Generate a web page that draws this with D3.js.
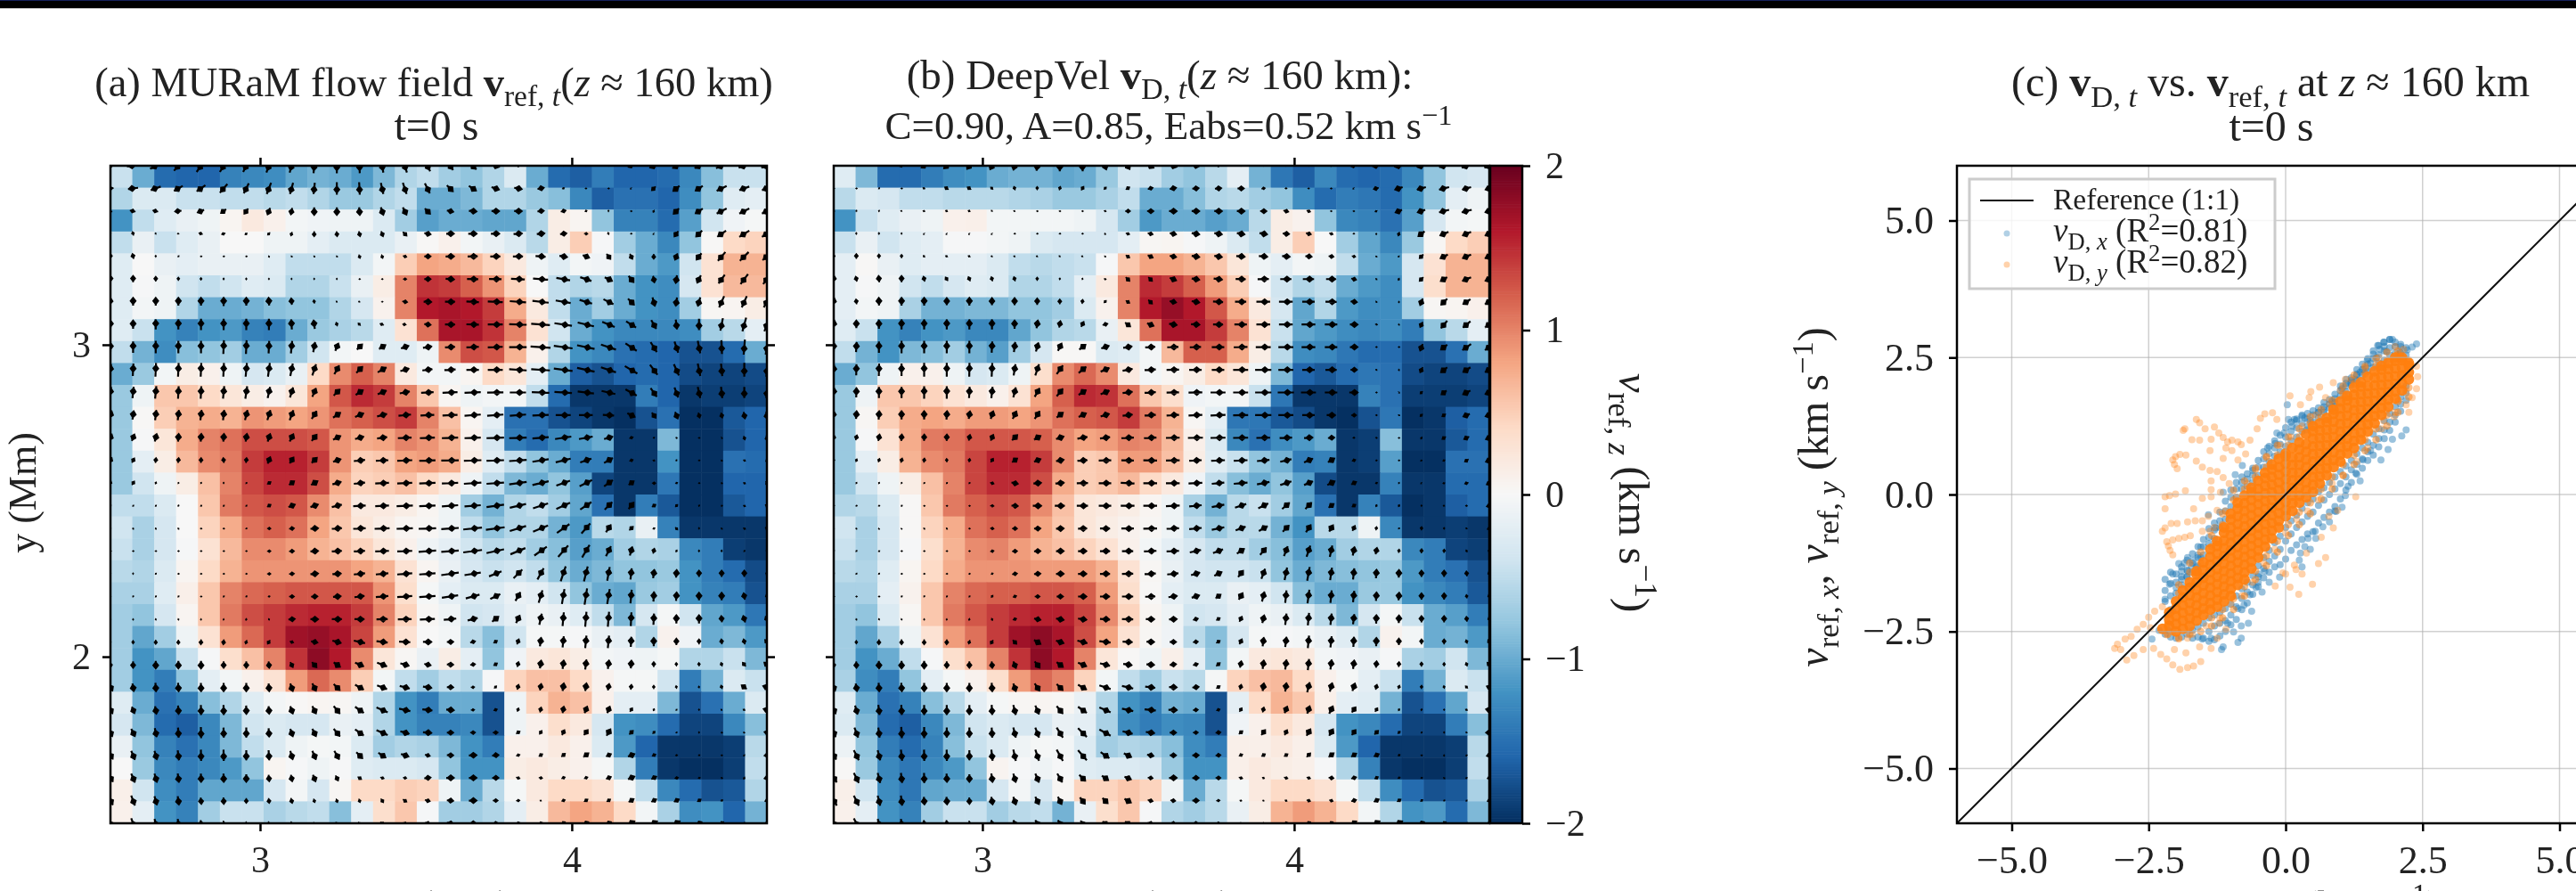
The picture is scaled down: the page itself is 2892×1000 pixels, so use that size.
<!DOCTYPE html>
<html>
<head>
<meta charset="utf-8">
<script src="https://cdn.jsdelivr.net/npm/d3@7/dist/d3.min.js"></script>
<style>
  html, body { margin: 0; background: #fff; overflow: hidden; }
  svg { display: block; filter: blur(0.5px); }
  text { font-family: "Liberation Serif", serif; fill: #222; }
</style>
</head>
<body>
<script>
// Vertical velocity in hundredths of km/s, top row first.
const vzRefRows = [
[-45,-100,-155,-160,-160,-135,-130,-125,-105,-95,-100,-115,-90,-60,-50,-70,-80,-60,-30,-100,-155,-165,-140,-160,-160,-155,-130,-85,-45,-45],
[-60,-30,-30,-45,-45,-50,-50,-55,-50,-60,-75,-75,-60,-50,-100,-100,-90,-60,-60,-75,-85,-130,-165,-150,-150,-160,-125,-80,-25,-20],
[-120,-50,-25,-15,-10,5,20,10,-5,-8,-10,-10,-30,-70,-110,-100,-100,-105,-105,-60,15,5,-80,-135,-135,-155,-110,-40,-8,-3],
[-50,-15,-45,-25,-15,0,0,-10,-10,-20,-30,-30,-30,-15,2,10,-5,-15,-30,-55,15,50,-2,-70,-100,-130,-80,2,40,45],
[-25,0,-15,-20,-15,-15,-15,-25,-50,-50,-50,-30,-5,50,80,75,65,45,20,-10,-25,-5,-8,-50,-100,-115,-40,30,70,70],
[-25,-2,-10,-40,-50,-40,-25,-30,-60,-60,-45,-15,15,100,145,140,120,90,45,0,-50,-60,-55,-100,-120,-125,-35,30,65,65],
[-25,-5,-10,-60,-100,-100,-95,-85,-80,-80,-60,-35,8,100,160,165,160,140,75,20,-50,-100,-70,-100,-120,-125,-70,3,5,15],
[-25,-45,-120,-135,-120,-115,-135,-140,-100,-75,-65,-55,-25,30,110,165,165,145,100,30,-40,-100,-120,-130,-130,-130,-125,-70,-55,-20],
[-50,-95,-125,-85,-80,-70,-100,-100,-70,-40,-5,0,-25,-25,-10,95,130,125,70,10,-60,-120,-130,-150,-155,-160,-175,-175,-155,-100],
[-100,-75,-5,15,10,-10,-35,-30,-15,40,95,120,100,20,-5,-5,5,40,25,-20,-100,-165,-175,-160,-155,-160,-180,-185,-185,-180],
[-75,-10,55,55,40,25,15,8,25,80,125,150,140,100,55,5,-10,-5,-5,-50,-155,-195,-195,-195,-140,-160,-195,-190,-190,-185],
[-75,2,50,70,75,70,90,85,80,90,110,120,130,140,100,60,5,-20,-150,-150,-175,-185,-195,-200,-175,-150,-200,-200,-170,-160],
[-75,-2,25,75,100,110,130,130,130,125,90,75,80,100,90,70,10,-35,-140,-155,-130,-115,-100,-195,-195,-90,-200,-200,-175,-160],
[-75,-20,15,65,95,105,140,155,155,140,90,50,55,80,85,75,15,-25,-50,-80,-100,-140,-140,-195,-195,-120,-200,-200,-150,-155],
[-75,-40,-10,15,60,100,135,150,150,130,75,45,50,60,40,20,-10,-50,-90,-100,-80,-110,-185,-195,-195,-145,-200,-200,-160,-160],
[-50,-50,-30,0,55,105,125,130,125,95,60,20,20,15,5,-10,-70,-95,-60,-50,-70,-105,-150,-195,-140,-170,-200,-200,-170,-160],
[-40,-65,-35,0,45,75,110,120,110,80,55,25,15,5,3,-10,-50,-80,-60,-60,-95,-115,-55,-60,-15,-135,-195,-195,-195,-195],
[-45,-65,-35,-2,30,65,95,95,85,70,60,45,25,10,-10,-20,-40,-55,-50,-70,-85,-110,-100,-70,-60,-65,-130,-140,-190,-195],
[-55,-60,-30,5,40,70,90,90,90,90,90,80,70,30,5,-15,-35,-45,-40,-50,-80,-100,-90,-80,-80,-75,-120,-140,-155,-180],
[-65,-65,-25,12,55,100,115,120,125,125,125,125,90,35,-3,-20,-30,-30,-15,-20,-40,-80,-100,-105,-75,-70,-120,-135,-140,-175],
[-70,-80,-35,5,55,105,130,140,150,155,155,140,100,45,3,-10,-40,-35,-20,-10,-15,-25,-50,-90,-35,-3,-40,-105,-115,-145],
[-70,-105,-70,-10,30,85,115,140,170,175,165,135,85,30,0,-5,-55,-85,-40,-3,-3,-2,-15,-20,-60,8,-8,-100,-90,-115],
[-70,-120,-105,-45,-2,35,60,100,145,180,160,95,25,3,-15,15,-20,-80,-8,20,25,15,-5,-8,-10,-3,-60,-60,-45,-90],
[-70,-120,-140,-80,-20,-5,10,30,85,115,95,50,-5,-50,-70,-50,-60,-2,45,60,60,40,8,-3,-3,-40,-140,-95,-30,-45],
[-25,-100,-150,-135,-85,-60,-25,-5,2,5,3,-10,-60,-120,-140,-100,-100,-175,-10,45,70,60,10,-20,-20,-90,-175,-150,-100,-30],
[-35,-90,-155,-165,-130,-90,-40,-30,-35,-35,-15,-20,-60,-120,-135,-135,-130,-175,-10,10,35,20,-35,-120,-125,-155,-185,-185,-130,-85],
[-15,-80,-135,-150,-130,-90,-50,-30,-10,-3,-5,-30,-70,-60,-65,-90,-120,-140,10,10,20,10,-30,-115,-160,-195,-195,-195,-190,-55],
[0,-75,-130,-140,-130,-115,-80,5,-2,-10,-2,-25,-30,-30,-35,-80,-120,-120,15,20,15,10,-3,-60,-140,-195,-200,-200,-190,-50],
[12,-40,-125,-140,-105,-105,-105,-35,-5,-35,3,40,40,50,45,-10,-100,-55,-3,20,40,40,30,-3,-50,-130,-155,-175,-170,-60],
[10,-20,-120,-135,-70,-45,-45,-65,-55,-50,-85,-20,35,55,-2,-70,-70,-60,-20,15,65,80,70,40,-5,-65,-125,-120,-160,-95]
];
const vzDeepRows = [
[-25,-90,-155,-155,-140,-125,-120,-100,-95,-95,-105,-100,-75,-40,-45,-70,-80,-55,-20,-95,-145,-165,-130,-155,-160,-155,-130,-80,-40,-35],
[-55,-30,-35,-50,-50,-55,-55,-55,-60,-65,-75,-75,-65,-50,-100,-100,-85,-60,-55,-70,-80,-125,-155,-140,-145,-155,-120,-80,-20,-10],
[-120,-45,-25,-15,-10,10,12,-5,-5,-5,-5,-10,-35,-70,-115,-100,-100,-110,-100,-55,15,8,-80,-130,-135,-150,-110,-35,-5,-3],
[-45,-15,-40,-25,-20,-2,-2,-5,-10,-30,-35,-35,-35,-20,3,5,-2,-10,-30,-50,15,50,0,-70,-105,-130,-75,3,40,50],
[-20,2,-15,-25,-20,-20,-20,-30,-50,-55,-50,-45,-2,55,80,80,70,55,25,-10,-20,-5,-10,-50,-100,-115,-35,30,70,70],
[-20,-2,-10,-40,-50,-35,-25,-30,-60,-60,-50,-20,20,100,150,140,120,85,50,-2,-40,-60,-50,-100,-115,-125,-35,35,70,70],
[-20,-5,-10,-65,-95,-95,-90,-90,-80,-80,-70,-30,8,100,160,175,160,125,75,20,-35,-105,-60,-115,-125,-125,-70,3,5,10],
[-25,-45,-120,-135,-120,-115,-130,-130,-105,-80,-60,-55,-15,25,110,165,165,140,100,30,-45,-105,-115,-125,-130,-125,-140,-80,-55,-20],
[-50,-95,-120,-90,-85,-70,-95,-110,-70,-35,2,2,-30,-25,-5,65,120,120,75,15,-55,-125,-130,-145,-155,-155,-175,-175,-150,-100],
[-100,-80,-10,10,10,-10,-35,-30,-10,35,95,115,95,20,-5,5,15,40,25,-10,-90,-160,-170,-155,-145,-150,-180,-185,-185,-180],
[-75,-10,55,55,45,30,20,10,30,80,120,150,145,110,55,35,-8,-5,-5,-45,-145,-195,-195,-195,-135,-150,-190,-190,-190,-185],
[-75,3,50,75,80,75,85,85,80,90,110,120,125,140,105,70,3,-20,-145,-145,-170,-180,-195,-200,-175,-145,-200,-195,-165,-155],
[-75,-2,30,75,105,110,125,125,125,120,95,80,85,100,95,65,12,-30,-130,-150,-125,-115,-100,-195,-190,-85,-195,-195,-170,-155],
[-75,-20,15,70,95,105,135,155,155,140,95,50,55,85,85,60,15,-25,-45,-80,-95,-140,-135,-195,-190,-110,-200,-200,-150,-150],
[-75,-40,-10,15,60,100,135,150,150,130,75,50,55,65,40,20,-8,-50,-85,-100,-80,-110,-180,-195,-195,-135,-195,-195,-155,-155],
[-60,-55,-30,2,55,105,120,130,125,95,60,25,20,15,5,-10,-65,-95,-55,-45,-70,-105,-150,-195,-135,-170,-200,-195,-165,-155],
[-40,-65,-35,2,45,75,110,120,110,80,55,25,15,8,3,-10,-50,-75,-55,-55,-95,-120,-55,-55,-10,-130,-195,-195,-190,-195],
[-45,-65,-35,-2,35,70,95,100,85,70,60,45,30,10,-5,-20,-35,-50,-50,-70,-85,-110,-100,-70,-60,-60,-130,-140,-185,-190],
[-55,-60,-25,5,40,75,90,90,90,85,85,85,70,30,3,-15,-35,-40,-40,-45,-80,-100,-90,-85,-80,-75,-115,-140,-150,-175],
[-65,-65,-20,8,55,100,115,120,120,125,125,120,85,35,2,-20,-30,-30,-15,-20,-40,-85,-100,-100,-75,-75,-120,-130,-140,-170],
[-70,-80,-30,3,55,105,125,140,150,155,155,135,95,45,5,-10,-40,-35,-20,-10,-15,-30,-55,-90,-35,-3,-45,-100,-110,-140],
[-70,-105,-65,-10,30,85,110,140,170,180,165,130,80,30,3,-8,-55,-85,-35,-3,-2,-5,-15,-25,-60,8,-5,-100,-95,-115],
[-70,-120,-100,-50,-2,35,60,100,145,180,160,100,25,2,-10,12,-20,-80,-5,20,25,20,-5,-8,-15,-2,-65,-70,-40,-90],
[-65,-125,-140,-80,-20,-3,8,35,85,115,100,45,-5,-50,-70,-45,-55,-3,45,60,65,40,10,-3,-20,-45,-140,-95,-30,-45],
[-25,-100,-150,-135,-85,-55,-20,-3,3,5,3,-15,-60,-120,-135,-95,-100,-175,-20,40,70,55,12,-20,-25,-95,-175,-150,-105,-35],
[-30,-90,-155,-165,-130,-90,-40,-30,-35,-35,-15,-20,-65,-125,-140,-125,-130,-175,-8,10,35,20,-35,-120,-130,-155,-185,-185,-140,-85],
[-12,-80,-140,-155,-135,-85,-45,-30,-10,-3,-5,-30,-70,-60,-65,-85,-125,-140,12,12,20,12,-30,-115,-160,-195,-195,-195,-190,-55],
[2,-75,-130,-145,-130,-115,-80,6,-2,-10,-2,-25,-30,-30,-35,-75,-120,-120,12,20,15,12,-2,-60,-135,-195,-200,-200,-190,-50],
[12,-40,-125,-145,-105,-100,-100,-35,-5,-35,3,45,45,55,45,-10,-100,-55,-3,20,40,40,30,-3,-50,-125,-155,-175,-170,-65],
[10,-20,-120,-135,-70,-45,-45,-70,-55,-50,-95,-15,35,55,-2,-60,-70,-55,-15,15,70,85,70,40,-5,-60,-120,-115,-155,-90]
];
// Horizontal flow arrows in hundredths of km/s, top row first.
const uRefRows = [
[-50,-100,-90,-70,-70,-60,-50,-40,-30,-10,0,5,20,35,45,50,60,60,30,10,0,0,0,-40,-60,-60,-70,-90,-90,-90],
[-50,-80,-80,-70,-70,-60,-40,-35,-25,-10,0,5,20,30,40,50,60,60,60,50,20,0,0,-10,-30,-50,-60,-80,-80,-80],
[-30,-40,-40,-50,-50,-40,-30,-20,-10,0,0,5,20,30,40,50,60,60,60,50,40,20,0,0,-10,-40,-60,-80,-80,-80],
[-5,-10,-5,-10,-30,-30,-20,-20,-10,0,5,10,15,30,50,60,70,70,70,60,50,30,-10,0,-10,-30,-50,-70,-80,-80],
[0,-10,0,2,0,0,0,2,10,10,10,10,10,30,50,70,80,80,80,80,60,50,30,20,0,-20,-40,-60,-70,-70],
[0,0,0,0,0,0,0,0,0,0,0,0,2,30,50,70,90,100,110,120,110,90,60,40,10,-10,-30,-50,-60,-60],
[5,0,0,0,0,0,0,-5,-5,-5,-10,-10,10,40,60,80,100,120,130,130,120,100,80,50,20,-10,-20,-40,-40,-50],
[0,0,0,0,0,0,0,0,-5,-10,-10,-20,-30,-30,50,80,100,120,140,150,140,130,100,80,40,10,0,-20,-30,-40],
[0,0,0,0,0,5,5,5,10,15,25,40,50,60,70,80,100,120,140,160,150,140,120,90,50,30,20,5,-10,-20],
[10,5,5,5,5,5,10,15,20,30,40,50,70,70,80,90,100,120,140,150,150,140,120,100,60,40,20,10,0,-10],
[10,10,10,5,5,10,15,20,25,30,50,60,70,80,100,120,130,130,130,140,140,130,110,90,50,30,20,10,0,-10],
[20,10,10,10,10,10,20,25,30,40,60,70,80,100,110,120,130,130,130,130,120,110,90,60,30,20,10,10,10,10],
[20,20,15,5,5,5,10,20,30,40,60,70,80,110,120,130,130,140,140,130,130,110,70,30,10,15,2,10,10,10],
[20,20,5,5,2,-5,5,20,30,40,60,90,100,120,130,140,140,140,140,130,120,90,70,30,20,5,0,5,20,10],
[10,20,10,5,2,0,10,30,40,50,70,90,110,120,130,130,140,140,140,130,110,100,70,40,30,20,0,10,20,20],
[10,10,10,5,3,3,10,30,50,60,80,100,110,130,130,130,130,140,130,120,110,90,60,40,30,20,5,10,20,30],
[5,5,5,3,2,2,10,30,40,60,80,100,120,130,140,140,150,150,130,120,100,70,40,30,20,20,0,10,20,30],
[2,2,2,2,2,2,5,30,40,60,80,90,110,120,140,140,150,140,120,100,80,60,40,20,10,10,0,0,10,20],
[0,0,1,1,1,1,6,30,40,60,70,90,100,120,130,140,130,100,70,50,40,30,20,10,10,5,0,0,0,10],
[1,1,2,2,2,1,5,20,40,50,60,80,100,120,130,130,110,80,40,30,20,20,20,10,5,5,0,0,-10,-10],
[2,2,3,5,2,-3,-5,10,50,60,80,80,90,110,120,100,80,50,30,20,10,10,10,5,5,0,0,-5,-15,-20],
[0,0,0,0,-2,-5,-10,-20,30,50,70,90,90,90,70,50,40,30,15,10,10,10,10,5,0,0,0,-5,-10,-30],
[5,0,0,0,0,0,0,5,20,35,50,70,80,70,50,50,40,30,10,10,10,10,10,5,0,-2,-2,-10,-25,-40],
[30,10,5,5,2,0,0,5,20,30,50,70,80,80,70,50,30,20,10,10,10,10,10,5,0,-5,-5,-10,-40,-60],
[30,20,10,5,2,2,2,5,20,30,50,70,90,90,80,60,30,30,10,10,10,20,20,20,10,10,0,-5,-20,-50],
[30,30,15,5,2,2,0,5,20,30,50,70,90,70,70,50,40,40,30,20,20,30,30,30,20,5,0,0,-10,-40],
[40,30,20,10,2,2,0,5,20,30,40,50,60,60,40,50,60,50,30,30,30,40,40,50,30,20,5,2,-10,-40],
[40,30,20,10,2,2,0,5,10,20,20,30,30,30,50,60,60,50,30,30,30,30,40,50,40,30,20,10,-10,-40],
[40,30,20,10,5,3,0,5,10,10,10,10,20,30,40,50,60,40,30,10,30,30,30,40,40,40,30,20,10,-30],
[40,30,20,10,5,5,5,10,10,10,20,20,30,30,40,50,50,40,30,30,30,40,40,50,50,50,40,30,20,-30]
];
const vRefRows = [
[-10,-10,-50,-80,-100,-100,-100,-110,-110,-120,-120,-120,-110,-110,-90,-70,-60,-20,0,0,0,0,0,-20,-30,-40,-40,-40,-30,-30],
[-5,-10,-30,-40,-50,-70,-80,-90,-90,-90,-100,-100,-90,-90,-80,-50,-40,-20,-10,10,10,0,0,-10,-30,-40,-40,-40,-30,-30],
[10,10,10,-5,-20,-30,-40,-50,-50,-60,-60,-60,-60,-60,-40,-10,-5,0,0,5,10,10,10,0,-20,-40,-40,-40,-40,-40],
[20,30,10,0,10,-10,-15,-20,-30,-40,-40,-40,-40,-30,-10,0,0,0,5,5,5,-2,20,0,-10,-40,-50,-50,-50,-50],
[40,40,20,2,0,0,0,-5,-10,-10,-10,-30,-30,-10,0,0,2,0,0,-5,-10,-20,-40,-40,-40,-50,-50,-70,-70,-60],
[50,50,40,30,25,20,20,5,2,2,2,0,0,0,0,-5,-2,-2,-5,-10,-20,-30,-30,-50,-50,-60,-60,-70,-80,-80],
[50,60,60,60,60,70,60,60,50,30,10,5,2,-5,-2,0,-5,-5,-10,-15,-20,-30,-40,-50,-70,-70,-70,-90,-90,-90],
[60,70,80,80,90,90,90,90,80,70,30,20,10,5,-5,0,-2,0,-5,-10,-20,-30,-40,-50,-70,-80,-90,-100,-110,-110],
[70,90,100,100,100,110,110,100,100,80,60,40,30,20,10,5,5,5,0,-10,-20,-30,-40,-60,-80,-90,-100,-110,-120,-120],
[90,100,110,110,110,110,110,110,100,90,70,50,40,20,10,5,0,0,-10,-10,-20,-30,-40,-60,-80,-90,-100,-100,-110,-110],
[90,90,100,100,100,100,100,90,80,70,50,40,30,15,5,5,5,2,0,-5,-10,-15,-25,-50,-70,-80,-90,-90,-90,-90],
[60,70,80,80,80,80,80,80,80,60,40,30,20,10,5,5,10,10,10,5,0,0,-5,-30,-40,-50,-40,-40,-50,-60],
[50,50,60,60,60,60,60,60,60,50,30,20,10,5,5,5,5,5,5,10,20,20,20,10,5,-5,0,-10,-30,-40],
[40,35,40,40,40,40,40,50,45,40,20,10,5,5,3,2,5,5,10,20,30,30,40,10,-5,10,0,-5,-10,-30],
[30,30,20,10,3,10,10,20,30,30,20,10,5,5,5,5,10,10,20,30,40,50,50,30,0,10,0,-5,-10,-30],
[10,10,10,10,2,3,10,20,20,20,20,5,5,5,5,10,10,20,30,40,50,60,60,50,20,20,10,5,-10,-20],
[-10,-10,-10,-5,0,0,2,0,5,5,5,5,5,5,5,10,15,20,40,50,70,80,60,30,10,-20,10,-10,-10,-20],
[0,0,0,0,0,0,0,0,2,5,5,5,5,5,10,10,20,30,50,70,90,100,80,70,40,20,20,20,10,-10],
[2,2,1,0,0,0,0,0,2,5,5,10,10,10,10,20,20,40,70,90,120,120,110,90,70,60,50,50,50,30],
[2,2,2,2,0,1,3,5,0,2,5,10,10,10,10,20,30,40,70,100,120,130,120,110,80,70,60,60,50,30],
[-10,-10,-10,-15,-15,-15,-20,-15,5,0,0,0,2,2,5,10,20,40,60,90,110,120,120,110,90,70,70,50,50,40],
[-20,-30,-35,-35,-40,-40,-30,-30,-10,-10,-20,-20,-10,-5,0,2,10,20,40,70,90,100,100,80,70,50,40,40,40,30],
[-40,-50,-60,-60,-60,-50,-50,-50,-40,-40,-35,-30,-30,-20,-10,-2,5,20,40,60,70,80,70,60,40,30,30,30,30,30],
[-50,-60,-70,-70,-70,-70,-70,-60,-60,-60,-50,-40,-30,-20,-10,-2,2,20,40,50,60,60,50,40,30,25,20,30,30,20],
[-50,-50,-60,-70,-80,-80,-70,-60,-60,-60,-60,-50,-40,-20,-10,-5,2,10,30,40,50,50,50,30,20,10,10,5,10,15],
[-60,-60,-70,-80,-90,-80,-80,-70,-60,-60,-60,-50,-40,-20,-5,0,2,2,20,30,40,40,50,30,20,2,2,0,2,10],
[-60,-70,-70,-80,-90,-90,-80,-80,-70,-70,-70,-50,-40,-20,-10,-2,2,5,10,20,25,30,20,20,15,5,2,0,-10,-5],
[-60,-70,-70,-70,-70,-70,-60,-50,-50,-50,-40,-20,-10,-5,5,0,0,0,-10,-5,10,10,15,20,20,5,5,-2,-20,-10],
[-70,-80,-70,-70,-50,-50,-40,-40,-40,-30,-30,-30,-30,-20,-10,-5,0,0,2,-5,10,20,20,25,20,20,20,10,-10,-10],
[-80,-80,-70,-70,-50,-40,-30,-30,-30,-20,-20,-20,-20,-10,-10,-10,0,5,10,10,20,20,20,30,30,30,20,20,10,-10]
];
const uDeepRows = [
[0,0,10,-30,-40,-40,-35,-30,-20,-10,0,5,20,30,50,60,50,30,10,0,0,0,-20,-40,-50,-60,-70,-80,-80,-80],
[0,5,5,10,-20,-30,-30,-20,-10,0,10,20,20,30,40,50,50,50,50,30,20,5,5,-10,-40,-60,-70,-80,-70,-60],
[0,2,2,-5,-20,-20,-20,-10,-5,2,2,3,20,40,50,60,60,60,60,50,40,30,2,2,-20,-50,-60,-80,-80,-70],
[0,0,0,0,-10,-10,-10,-3,2,2,2,5,5,30,40,50,60,60,60,60,50,40,30,2,0,-10,-50,-70,-70,-70],
[5,0,0,0,-15,-20,-20,-10,-10,-10,-5,-10,10,30,40,50,60,60,70,70,60,50,40,30,3,-10,-30,-60,-70,-70],
[5,-10,-5,0,-10,-20,-15,-10,-10,0,2,5,20,30,30,50,60,70,80,90,90,90,80,40,5,-10,-30,-50,-70,-70],
[10,-5,-2,0,0,0,0,0,0,0,0,5,20,30,30,50,60,80,90,110,110,100,90,50,5,2,-20,-50,-60,-70],
[10,0,0,0,0,0,0,0,0,10,10,20,40,40,50,60,70,80,100,110,110,110,100,60,20,2,-20,-50,-60,-70],
[0,5,0,0,0,0,0,5,10,20,30,50,60,70,80,90,90,100,110,120,120,110,100,60,5,2,-20,-50,-70,-70],
[5,2,2,0,0,0,2,5,15,30,50,60,70,80,90,100,100,100,120,130,120,100,90,50,2,2,-20,-50,-60,-70],
[5,2,0,0,0,0,5,10,20,40,50,60,70,80,90,100,110,120,120,130,130,120,100,70,3,2,-20,-40,-60,-70],
[5,5,5,0,0,5,10,20,30,40,50,60,70,80,90,100,110,120,120,130,120,100,70,40,10,3,-20,-30,-50,-60],
[5,10,10,5,2,2,10,20,40,50,60,80,80,100,100,110,120,120,120,110,100,70,50,20,10,2,-10,-30,-40,-50],
[5,10,10,10,5,-2,5,20,40,50,60,80,100,100,110,110,100,110,110,100,90,70,50,30,10,2,-10,-20,-30,-50],
[5,10,10,5,3,2,2,30,50,60,70,90,100,110,110,110,110,100,110,100,90,70,60,40,20,5,-2,-20,-30,-40],
[5,5,5,3,2,2,5,30,50,70,80,90,100,110,110,110,100,100,90,80,60,50,40,30,10,10,0,-10,-20,-40],
[2,2,3,3,1,1,5,30,40,50,60,70,80,100,110,100,100,100,80,70,50,40,30,20,5,10,2,0,-10,-30],
[1,1,2,1,1,2,5,30,40,50,60,70,80,90,100,100,90,80,60,50,30,30,20,15,10,5,2,2,-10,-20],
[1,1,1,1,1,1,5,20,40,50,60,70,80,90,90,90,70,60,40,30,20,20,15,10,5,2,0,0,-5,-10],
[1,1,1,3,2,2,5,15,30,40,50,70,80,90,80,70,60,40,30,20,10,15,10,10,5,5,0,0,-5,-10],
[2,2,3,5,3,-2,-5,10,30,50,60,70,80,90,70,60,40,30,20,15,10,10,10,10,2,2,0,0,-5,-10],
[0,0,0,0,0,-2,-10,-20,30,50,60,80,90,80,60,50,40,30,20,10,10,10,10,5,2,0,0,0,-10,-20],
[5,2,2,0,0,0,0,5,20,40,50,70,80,70,60,50,40,30,10,10,10,10,10,10,5,3,0,0,-10,-30],
[20,10,5,5,0,0,0,5,20,40,50,70,90,90,80,60,50,30,10,10,10,20,20,20,10,10,2,-5,-20,-40],
[30,20,10,5,0,0,0,5,20,30,50,70,90,90,90,70,40,30,20,10,20,20,30,30,20,10,5,0,-20,-50],
[30,30,10,5,0,0,0,5,20,30,50,70,90,80,70,50,40,40,30,30,20,30,30,30,30,20,5,0,-10,-50],
[40,40,20,10,2,2,0,10,20,30,50,70,70,60,50,50,50,40,30,30,30,30,40,40,40,20,10,0,-10,-40],
[50,40,20,10,2,3,0,10,20,30,40,50,50,50,40,60,50,40,30,20,30,30,40,40,30,20,10,2,-10,-30],
[50,40,20,10,5,5,2,10,20,30,30,40,40,50,40,40,50,30,20,10,20,30,30,40,40,30,20,10,-5,-30],
[50,40,20,10,5,5,5,10,20,30,30,30,40,40,40,40,40,30,20,20,30,30,30,40,50,50,40,30,10,-30]
];
const vDeepRows = [
[0,0,5,-10,-30,-40,-50,-60,-70,-80,-90,-90,-60,-50,-30,-20,-10,0,0,0,0,0,-5,-10,-10,-15,-20,-20,-30,-30],
[0,0,5,0,10,20,20,20,30,30,30,30,20,20,10,10,5,5,0,5,0,0,0,-10,-10,-20,-20,-20,-20,-20],
[0,5,5,3,5,10,10,10,2,0,0,0,-5,0,0,0,0,0,0,0,-10,-10,0,0,-10,-20,-20,-20,-20,-20],
[10,20,20,10,-10,-10,-10,-3,0,0,0,0,-10,-10,-10,-10,-10,-10,-10,-10,-5,-10,-10,0,-10,-30,-40,-30,-30,-30],
[30,40,35,30,15,10,10,5,5,5,5,5,-10,-20,-20,-10,-10,-10,-5,-5,-5,-5,-5,-5,-2,-10,-30,-30,-30,-30],
[50,40,50,50,40,30,35,35,35,30,20,15,-5,-30,-30,-20,-10,-10,-2,2,0,0,0,-10,-5,-20,-30,-30,-30,-30],
[50,40,60,60,60,55,60,55,55,50,40,35,20,-20,-30,-10,-10,-5,0,0,0,0,-2,-5,-5,-10,-50,-50,-40,-40],
[60,60,70,80,80,80,80,80,70,60,50,40,10,-30,-20,-10,-5,0,0,0,0,0,0,0,-5,-5,-40,-60,-50,-50],
[70,80,90,100,100,100,100,90,80,70,60,40,20,10,5,2,2,0,2,0,0,0,0,0,0,0,-50,-40,-50,-50],
[80,90,100,100,110,110,110,110,90,90,70,50,30,15,5,2,0,0,0,0,0,0,0,0,-2,-5,-40,-40,-40,-40],
[80,80,90,90,100,100,90,90,80,70,60,40,30,10,5,2,2,0,0,0,0,0,0,0,0,-2,-20,-30,-30,-30],
[50,60,70,70,70,70,60,60,60,60,40,30,20,10,5,5,5,5,2,0,0,0,0,0,0,-2,-20,-20,-20,-20],
[40,40,50,50,50,50,45,45,40,30,20,15,10,5,5,2,2,2,2,2,3,3,3,2,-2,0,-20,-20,-20,-20],
[25,25,30,35,35,30,30,30,30,20,10,5,2,-2,-2,2,5,5,5,10,20,30,30,10,2,0,-5,-10,-20,-20],
[15,15,15,10,3,2,2,-10,-10,5,5,2,0,-5,0,0,5,10,10,20,30,30,30,20,10,10,-2,-5,-10,-20],
[2,2,2,2,0,0,0,-2,-2,0,0,0,0,0,0,5,10,20,30,40,50,50,30,20,20,20,5,5,2,-10],
[-5,-5,-10,-8,-1,-1,0,-2,0,2,2,2,0,0,2,5,10,20,30,40,50,60,50,40,30,10,30,20,5,-10],
[1,1,1,0,0,0,0,5,2,2,0,0,0,0,5,5,20,30,40,60,80,90,90,70,50,30,35,30,20,10],
[1,1,1,0,0,0,2,10,5,2,0,0,0,2,5,10,20,30,50,80,100,110,100,90,70,60,50,50,40,30],
[0,0,0,2,3,2,5,20,10,0,0,0,0,0,3,10,20,30,50,80,100,110,100,90,70,60,50,50,30,30],
[-5,-5,-5,-10,-15,-15,-20,-20,10,-10,-10,-10,-5,-2,0,2,10,20,40,60,90,100,90,80,70,60,50,50,40,30],
[-20,-30,-40,-40,-40,-40,-30,-30,-30,-30,-20,-20,-10,-5,-2,0,5,20,40,70,80,100,90,80,70,50,40,40,30,30],
[-40,-50,-60,-60,-60,-50,-50,-50,-50,-50,-40,-30,-20,-10,-3,5,10,25,50,70,80,90,80,70,50,40,35,30,30,30],
[-50,-60,-70,-70,-70,-70,-70,-70,-60,-60,-50,-40,-30,-20,-10,-2,5,20,40,60,70,80,70,60,40,30,30,25,20,15],
[-60,-70,-80,-80,-80,-80,-80,-80,-80,-70,-60,-50,-40,-20,-10,-2,2,10,30,40,50,60,60,40,30,20,20,5,10,10],
[-70,-80,-80,-90,-90,-80,-80,-80,-80,-80,-80,-70,-50,-20,-10,0,2,5,25,40,40,50,50,40,30,20,5,5,5,0],
[-70,-80,-80,-90,-90,-90,-80,-90,-90,-90,-90,-80,-50,-30,-10,0,2,5,15,20,20,30,30,25,20,10,0,-2,-5,-10],
[-70,-80,-80,-80,-80,-70,-60,-70,-70,-70,-70,-50,-35,-20,-5,0,2,0,-10,-10,-10,-10,-5,10,15,10,2,-2,-5,-10],
[-80,-80,-80,-80,-60,-60,-50,-60,-60,-60,-60,-50,-40,-30,-10,-5,0,2,-5,-5,-10,-10,-10,10,20,20,15,5,-5,-10],
[-80,-80,-70,-70,-50,-50,-40,-50,-50,-50,-50,-40,-30,-30,-10,-5,0,5,5,5,10,20,20,30,30,30,20,20,10,-10]
];
// Scatter of panel (c): the loose dots read one by one, km/s.
const xBlue = [1.9,1.95,1.79,1.68,1.84,1.6,1.49,1.47,1.36,1.28,1.19,1.11,2.39,2.31,2.22,2.14,2.09,2.2,1.95,2.12,1.87,1.74,1.55,1.41,1.28,1.36,1.14,1.09,1.03,.92,.68,.54,.41,.27,.3,-.11,-.38,-.49,-.54,-.43,-.65,-.76,-.87,-.62,-.81,-.68,-1.06,-.95,-.81,-.87,-1.14,-1.17,-1.52,-1.36,-2.44,-2.31,-2.14,-2.06,-2.2,-2.12,-2.06,-1.95,-1.79,-1.79,-1.63,-1.55,-1.28,-1.41,-1.14,-.92,-.79,-.6,-.33,-.19,-.16,.05,.16,.3,.03,-.03,.38,.6,.9,1.03,1.72,1.8,1.55,1.42,1.3,1.66,-1.9,-1.85,-1.72,-1.68,-1.6,-1.9,-2,-1.8,-1.55,.2,.12,.35,.45,.85,.7,.9,.8,.55,.45,.35,.25,-.3,-.5];
const yBlue = [2.83,2.83,2.78,2.72,2.61,2.56,2.45,2.31,2.23,2.1,2.04,2.1,2.75,2.69,2.64,2.21,2.61,1.18,1.01,1.07,.82,.63,.8,.63,.39,.25,.15,-.02,-.23,-.31,-.59,-.67,-.8,-1.07,-1.32,-1.51,-1.4,-1.45,-1.7,-1.78,-1.83,-2.02,-2.08,-2.13,-2.4,-2.35,-2.35,-2.51,-2.62,-2.7,-2.78,-2.83,-2.64,-2.62,-2.64,-2.48,-2.48,-2.13,-1.91,-1.64,-1.45,-1.26,-1.15,-1.4,-1.32,-.96,-.61,-.37,.04,.36,.53,.44,.85,.93,1.12,1.37,1.37,1.45,1.64,1.12,1.18,1.5,1.61,1.93,2.65,2.7,2.4,2.28,2.2,2.5,-1.4,-1.25,-1.3,-1.2,-1.1,-1.55,-1.7,-1.5,-1.15,1.35,1.25,1.4,1.35,1.7,1.55,-.3,-.5,-.8,-1,-.95,-1.2,-1.6,-1.6];
const xOrange = [-1.63,-1.57,-1.84,-1.87,-1.47,-1.3,-1.22,-1.14,-1.06,-.98,-.87,-1.71,-1.57,-1.36,-1.38,-1.09,-.81,-.65,-.38,-.24,-.16,-.46,-.52,-.73,-1.14,-.98,-.87,-2.01,-1.93,-1.82,-2.06,-2.03,-1.98,-1.63,-1.52,-1.38,-1.25,-1.36,-1.14,-1.03,-2.2,-2.12,-2.01,-1.83,-2.2,-1.68,-1.52,-1.36,-1.36,-1.19,-2.25,-2.2,-2.09,-1.98,-1.79,-1.65,-1.52,-1.41,-1.25,-2.17,-2.06,-1.95,-1.84,-1.74,-2.14,-2.11,-2.06,-1.52,-1.38,.87,.46,.62,.08,.43,.27,.73,1.09,1.28,.95,.79,.87,.65,.73,.6,.38,.3,.16,.49,.08,-.19,.24,0,.19,-.05,2.39,2.41,2.39,2.31,2.2,2.25,2.06,1.98,1.79,1.84,-3.07,-3.12,-3.01,-2.9,-2.77,-2.6,-2.41,-2.28,-2.17,-2.06,-1.93,-1.79,-1.68,-1.55,-2.03,-1.82,-1.57,-1.36,-1.25,-1.09,-1.22,-1.95,-1.79,-2.71,-2.6,-2.5,-2.39,-2.25,-2.82,-2.93,-2.47,-2.17,-2.06,-1.3,-1.1,-.9,-.7,-.55,-.35,-.1,.1,.3,.55,.8,1,1.2,1.45,1.7,2,2.15,-1.7,-1.45,-1.2,-1,-.8,-.6,-.4,-.2,0,.2,.4,.6,.85,1.05,1.3,1.5,1.75,2,2.2];
const yOrange = [1.37,1.31,1.2,1.17,1.2,1.23,1.12,1.04,.96,.99,.96,1,.99,1.01,.8,.85,.91,.99,1.47,1.49,1.37,1.39,1.2,.74,.66,.8,.63,.69,.73,.72,.63,.55,.47,.61,.5,.44,.42,.25,.31,.2,-.04,-.02,.01,.07,-.26,-.26,-.07,-.04,.09,.04,-.67,-.61,-.53,-.53,-.5,-.48,-.48,-.4,-.29,-.86,-.83,-.8,-.78,-.75,-.94,-1.02,-1.1,-.67,-.67,2.04,1.88,1.96,1.8,1.77,1.64,1.77,2.1,-.04,-.29,-.4,-.61,-.78,-1.15,-1.26,-1.07,-1.45,-1.29,-1.64,-1.69,-1.67,-1.82,-1.45,-1.37,-1.43,2.34,2.15,1.93,1.77,1.64,1.5,1.72,1.42,1.34,1.53,-2.73,-2.81,-2.83,-3.02,-2.94,-2.83,-2.81,-2.92,-3,-3.11,-3.19,-3.16,-3.13,-3.05,-2.83,-2.89,-2.78,-2.81,-2.62,-2.46,-2.35,-2.64,-2.62,-2.46,-2.37,-2.24,-2.13,-2.05,-2.59,-2.64,-2.43,-2.56,-2.51,-.6,-.3,-.05,.2,.45,.7,.9,1.05,1.25,1.45,1.65,1.9,2.1,2.35,2.5,2.7,2.65,-2.55,-2.4,-2.25,-2,-1.85,-1.6,-1.25,-1,-.7,-.45,-.3,-.1,.2,.35,.6,.85,1.2,1.5,1.9];
// The blue and orange fringe either side of the band, as columns.
const fringeBlueX = [-2.2,-2.1,-2,-1.9,-1.8,-1.7,-1.6,-1.5,-1.4,-1.3,-1.2,-1.1,-1,-.9,-.8,-.7,-.6,-.5,-.4,-.3,-.2,-.1,0,.1,.2,.3,.4,.5,.6,.7,.8,.9,1,1.1,1.2,1.3,1.4,1.5,1.6,1.7,1.8,1.9,2,2.1,2.2];
const fringeBlueY = [
[-2.55,-1.95,-1.75,-1.55],[-2.6,-2.1,-1.85,-1.62,-1.42],[-2.62,-1.8,-1.6,-1.45],[-2.6,-1.65,-1.5,-1.32],[-2.55,-1.5,-1.38,-1.2],
[-2.62,-2.48,-1.42,-1.25,-1.08],[-2.6,-2.42,-1.3,-1.15,-.95],[-2.62,-2.35,-1.1,-.95,-.82],[-2.68,-2.5,-2.25,-.9,-.78,-.62],[-2.65,-2.4,-2.2,-.8,-.65,-.52],
[-2.58,-2.35,-2.15,-.6,-.48,-.32],[-2.5,-2.3,-2.08,-.45,-.3,-.12],[-2.38,-2.2,-2,-.22,-.05,.08],[-2.28,-2.05,-1.85,-.05,.1,.22],[-2.1,-1.9,-1.72,.1,.22,.32],
[-1.98,-1.78,-1.6,.15,.28,.38],[-1.82,-1.65,-1.48,.22,.35,.48],[-1.68,-1.5,-1.3,.35,.5,.62],[-1.52,-1.35,-1.15,.5,.65,.78],[-1.42,-1.22,-1.02,.6,.75,.88],
[-1.32,-1.12,-.88,.7,.85,.98],[-1.28,-1,-.76,.78,.92,1.08],[-1.18,-.85,-.6,.88,1.05,1.22],[-1.02,-.72,-.48,.98,1.15,1.32],[-.92,-.6,-.38,1.05,1.22,1.38],
[-.82,-.5,-.25,1.15,1.3,1.43],[-.72,-.4,-.15,1.25,1.38,1.48],[-.68,-.32,-.08,1.32,1.45,1.53],[-.52,-.2,.05,1.4,1.5,1.58],[-.42,-.1,.12,1.5,1.6,1.68],
[-.32,0,.22,1.58,1.65,1.73],[-.22,.1,.32,1.68,1.75,1.83],[-.08,.2,.42,1.8,1.9,1.98],[.08,.32,.52,1.88,1.98,2.03],[.22,.45,.62,2,2.08,2.13],
[.37,.55,.75,2.08,2.18,2.28],[.48,.65,.85,2.18,2.28,2.38],[.62,.78,.95,2.25,2.38,2.48],[.72,.9,1.1,2.32,2.48,2.62],[.87,1.02,1.2,2.4,2.55,2.72],
[1.02,1.18,1.35,2.45,2.62,2.78],[1.17,1.32,1.48,2.55,2.68,2.83],[1.32,1.45,1.6,2.58,2.7,2.78],[1.52,1.65,1.78,2.58,2.7,2.74],[1.72,1.85,1.98,2.55,2.68]
];
const fringeOrangeX = [-2.15,-1.95,-1.75,-1.55,-1.35,-1.15,-.95,-.75,-.55,-.35,-.15,.05,.25,.45,.65,.85,1.05,1.25,1.45,1.65,1.85,2.05,2.25];
const fringeOrangeY = [
[-2.55,-2.35,-2.2],[-2.62,-1.8,-1.65],[-2.55,-1.42,-1.25],[-2.5,-1.25,-1.05],[-2.4,-2.25,-.95,-.75],[-2.25,-2.1,-.55,-.35],
[-2.1,-1.9,-.1,.08],[-1.85,-1.68,.1,.25],[-1.55,-1.4,.32,.48],[-1.3,-1.12,.5,.68],[-1.05,-.85,.72,.9],[-.75,-.55,.9,1.05],
[-.55,-.32,1.05,1.2],[-.35,-.15,1.3,1.42],[-.08,.1,1.42,1.55],[.1,.32,1.58,1.72],[.35,.55,1.85,1.98],[.55,.72,2.02,2.18],
[.8,1,2.2,2.32],[1,1.2,2.35,2.48],[1.25,1.45,2.45,2.6],[1.5,1.7,2.55,2.62],[1.78,1.95,2.45]
];
// The solid orange band, as columns of stacked dots.
const coreX = [-2.25,-2.125,-2,-1.875,-1.75,-1.625,-1.5,-1.375,-1.25,-1.125,-1,-.875,-.75,-.625,-.5,-.375,-.25,-.125,0,.125,.25,.375,.5,.625,.75,.875,1,1.125,1.25,1.375,1.5,1.625,1.75,1.875,2,2.125,2.25];
const coreY = [
[-2.45],
[-2.4,-2.28,-2.15],
[-2.5,-2.36,-2.22,-2.08,-1.95],
[-2.45,-2.3,-2.16,-2.02,-1.88,-1.75],
[-2.4,-2.26,-2.12,-1.98,-1.84,-1.7,-1.6],
[-2.3,-2.16,-2.02,-1.88,-1.74,-1.6,-1.46,-1.4],
[-2.2,-2.08,-1.94,-1.8,-1.66,-1.52,-1.38,-1.24],
[-2.1,-1.98,-1.84,-1.7,-1.56,-1.42,-1.28,-1.14,-1],
[-2.05,-1.92,-1.78,-1.64,-1.5,-1.36,-1.22,-1.08,-.94,-.85],
[-1.95,-1.82,-1.68,-1.54,-1.4,-1.26,-1.12,-.98,-.84,-.7,-.6],
[-1.85,-1.72,-1.58,-1.44,-1.3,-1.16,-1.02,-.88,-.74,-.6,-.46,-.35],
[-1.65,-1.52,-1.38,-1.24,-1.1,-.96,-.82,-.68,-.54,-.4,-.26,-.15],
[-1.55,-1.42,-1.28,-1.14,-1,-.86,-.72,-.58,-.44,-.3,-.16,-.02],
[-1.35,-1.22,-1.08,-.94,-.8,-.66,-.52,-.38,-.24,-.1,.04,.12],
[-1.15,-1.02,-.88,-.74,-.6,-.46,-.32,-.18,-.04,.1,.25],
[-.95,-.82,-.68,-.54,-.4,-.26,-.12,.02,.16,.3,.4],
[-.8,-.66,-.52,-.38,-.24,-.1,.04,.18,.32,.46,.55],
[-.6,-.48,-.34,-.2,-.06,.08,.22,.36,.5,.65],
[-.4,-.28,-.14,0,.14,.28,.42,.56,.7,.75],
[-.3,-.16,-.02,.12,.26,.4,.54,.68,.85],
[-.15,-.02,.12,.26,.4,.54,.68,.82,.95],
[-.05,.08,.22,.36,.5,.64,.78,.92,1.1],
[.05,.18,.32,.46,.6,.74,.88,1.02,1.16,1.25],
[.2,.33,.47,.61,.75,.89,1.03,1.17,1.3],
[.35,.48,.62,.76,.9,1.04,1.18,1.32,1.4],
[.5,.63,.77,.91,1.05,1.19,1.33,1.47,1.55],
[.6,.73,.87,1.01,1.15,1.29,1.43,1.57,1.7],
[.75,.88,1.02,1.16,1.3,1.44,1.58,1.72,1.8],
[.85,.98,1.12,1.26,1.4,1.54,1.68,1.82,1.95],
[1,1.13,1.27,1.41,1.55,1.69,1.83,1.97,2.05],
[1.15,1.28,1.42,1.56,1.7,1.84,1.98,2.15],
[1.3,1.43,1.57,1.71,1.85,1.99,2.13,2.25],
[1.45,1.58,1.72,1.86,2,2.14,2.28,2.35],
[1.6,1.73,1.87,2.01,2.15,2.29,2.4],
[1.75,1.88,2.02,2.16,2.3,2.44,2.5],
[1.9,2.03,2.17,2.31,2.45,2.5],
[2.1,2.23,2.35,2.4]
];
const heatTicks = [3, 4];
const cbarTicks = [-2, -1, 0, 1, 2];
const scatterTicks = [-5, -2.5, 0, 2.5, 5];
const colorStops = ["#053061","#2166ac","#4393c3","#92c5de","#d1e5f0","#f7f7f7","#fddbc7","#f4a582","#d6604d","#b2182b","#67001f"];

const W = 2892, H = 1000;
const TOP = 186, BOTTOM = 924;
const color = d3.scaleLinear().domain(d3.range(11).map(i => -2 + 0.4 * i)).range(colorStops).clamp(true);
const quiverLen = d3.scaleLinear().domain([0, 1]).range([0, 14]);

const svg = d3.select("body").append("svg").attr("width", W).attr("height", H);
svg.append("rect").attr("width", W).attr("height", H).attr("fill", "#fff");
svg.append("rect").attr("width", W).attr("height", 9).attr("fill", "#000");
svg.append("rect").attr("width", W).attr("height", 1).attr("fill", "#15205c");
svg.append("rect").attr("y", 9).attr("width", W).attr("height", 1).attr("fill", "#bbb");

// Text with bold, italic, sub and superscript runs, keeping one real text element.
function mathText(parent, x, y, parts, size, opts = {}) {
  const t = parent.append("text")
    .attr("font-size", size)
    .attr("text-anchor", opts.anchor || "middle")
    .attr("transform", `translate(${x},${y}) rotate(${opts.rotate || 0})`);
  let shift = 0;
  for (const [txt, mode = ""] of parts) {
    const sub = mode.includes("s"), sup = mode.includes("u");
    const target = sub ? size * 0.24 : sup ? -size * 0.36 : 0;
    const span = t.append("tspan").text(txt).attr("dy", target - shift);
    if (sub || sup) span.attr("font-size", size * 0.72);
    if (mode.includes("b")) span.attr("font-weight", "bold");
    if (mode.includes("i")) span.attr("font-style", "italic");
    shift = target;
  }
  return t;
}

const clipId = (() => { let n = 0; return () => "clip" + n++; })();

function heatPanel(left, right, vz, u, v, xDomain, leftLabels) {
  const g = svg.append("g");
  const id = clipId();
  g.append("clipPath").attr("id", id).append("rect")
    .attr("x", left).attr("y", TOP).attr("width", right - left).attr("height", BOTTOM - TOP);

  const idx = d3.range(30);
  const cx = d3.scaleBand().domain(idx).range([left, right]);
  const cy = d3.scaleBand().domain(idx).range([TOP, BOTTOM]);
  const ax = d3.scalePoint().domain(idx).range([left, right]);
  const ay = d3.scalePoint().domain(idx).range([TOP, BOTTOM]);

  g.append("g").selectAll("g").data(vz).join("g").selectAll("rect")
    .data((row, k) => row.map((val, j) => ({ val, j, k })))
    .join("rect")
    .attr("x", d => cx(d.j)).attr("y", d => cy(d.k))
    .attr("width", cx.bandwidth() + 0.5).attr("height", cy.bandwidth() + 0.5)
    .attr("fill", d => color(d.val / 100));

  const arrows = [];
  idx.forEach(k => idx.forEach(j => arrows.push({ j, k, u: u[k][j] / 100, v: v[k][j] / 100 })));
  g.append("g").attr("clip-path", `url(#${id})`).selectAll("path").data(arrows).join("path")
    .attr("fill", "#000")
    .attr("transform", d => `translate(${ax(d.j)},${ay(d.k)}) rotate(${Math.atan2(-d.v, d.u) * 180 / Math.PI})`)
    .attr("d", d => {
      const L = Math.max(quiverLen(Math.hypot(d.u, d.v)), 2.5);
      const s = Math.min(1, L / 8);
      const w = 1.1 * s, hc = 0.1 * L, hl = 5 * s, hw = 4 * s;
      return `M${-L / 2},${-w}H${L / 2}V${w}H${-L / 2}Z` +
        `M${hc - hl},0L${hc},${-hw}L${hc + hl},0L${hc},${hw}Z`;
    });

  const x = d3.scaleLinear().domain(xDomain).range([left, right]);
  const y = d3.scaleLinear().domain([1.466, 3.574]).range([BOTTOM, TOP]);
  const fmt = d3.format("d");
  const style = a => {
    a.select(".domain").remove();
    a.selectAll(".tick line").attr("stroke", "#000").attr("stroke-width", 2.5);
    a.selectAll("text").attr("font-size", 42).attr("font-family", "Liberation Serif").attr("fill", "#222");
  };
  g.append("g").attr("transform", `translate(0,${BOTTOM})`)
    .call(d3.axisBottom(x).tickValues(heatTicks).tickSize(9).tickPadding(16).tickFormat(fmt)).call(style);
  g.append("g").attr("transform", `translate(0,${TOP})`)
    .call(d3.axisTop(x).tickValues(heatTicks).tickSize(9).tickFormat("")).call(style);
  g.append("g").attr("transform", `translate(${left},0)`)
    .call(d3.axisLeft(y).tickValues([2, 3]).tickSize(9).tickPadding(13).tickFormat(leftLabels ? fmt : "")).call(style);
  if (leftLabels) {
    g.append("g").attr("transform", `translate(${right},0)`)
      .call(d3.axisRight(y).tickValues([2, 3]).tickSize(9).tickFormat("")).call(style);
  }
  g.append("rect").attr("x", left).attr("y", TOP).attr("width", right - left).attr("height", BOTTOM - TOP)
    .attr("fill", "none").attr("stroke", "#000").attr("stroke-width", 2.5);
}

heatPanel(124, 861, vzRefRows, uRefRows, vRefRows, [2.52, 4.626], true);
heatPanel(936, 1672, vzDeepRows, uDeepRows, vDeepRows, [2.523, 4.626], false);

mathText(svg, 487, 108, [["(a) MURaM flow field "], ["v", "b"], ["ref, ", "s"], ["t", "si"], ["("], ["z", "i"], [" ≈ 160 km)"]], 46.5);
mathText(svg, 490, 157, [["t=0 s"]], 48);
mathText(svg, 1302, 100, [["(b) DeepVel "], ["v", "b"], ["D, ", "s"], ["t", "si"], ["("], ["z", "i"], [" ≈ 160 km):"]], 47);
mathText(svg, 1312, 156, [["C=0.90, A=0.85, Eabs=0.52 km s"], ["−1", "u"]], 45);
mathText(svg, 40, 553, [["y (Mm)"]], 44, { rotate: -90 });
mathText(svg, 506, 1030, [["x (Mm)"]], 44);
mathText(svg, 1316, 1030, [["x (Mm)"]], 44);

// Colour bar
const cbarY = d3.scaleLinear().domain([-2, 2]).range([BOTTOM, TOP]);
svg.append("g").selectAll("rect").data(d3.range(-2, 2, 4 / 256)).join("rect")
  .attr("x", 1673).attr("width", 36)
  .attr("y", d => cbarY(d + 4 / 256)).attr("height", 3.5)
  .attr("fill", d => color(d));
svg.append("rect").attr("x", 1673).attr("y", TOP).attr("width", 36).attr("height", BOTTOM - TOP)
  .attr("fill", "none").attr("stroke", "#000").attr("stroke-width", 2.5);
const cbarAxis = svg.append("g").attr("transform", "translate(1709,0)")
  .call(d3.axisRight(cbarY).tickValues(cbarTicks).tickSize(9).tickPadding(17).tickFormat(d3.format("d")));
cbarAxis.select(".domain").remove();
cbarAxis.selectAll(".tick line").attr("stroke", "#000").attr("stroke-width", 2.5);
cbarAxis.selectAll("text").attr("font-size", 42).attr("font-family", "Liberation Serif").attr("fill", "#222");
mathText(svg, 1818, 553, [["v", "i"], ["ref, ", "s"], ["z", "si"], [" (km s"], ["−1", "u"], [")"]], 49, { rotate: 90 });

// Scatter panel
const SL = 2197, SR = 2935;
const sx = d3.scaleLinear().domain([-6, 6]).range([SL, SR]);
const sy = d3.scaleLinear().domain([-6, 6]).range([BOTTOM, TOP]);
const scat = svg.append("g");
const scatId = clipId();
scat.append("clipPath").attr("id", scatId).append("rect")
  .attr("x", SL).attr("y", TOP).attr("width", SR - SL).attr("height", BOTTOM - TOP);
const plot = scat.append("g").attr("clip-path", `url(#${scatId})`);

function dots(xs, ys, fill, r, opacity) {
  plot.append("g").selectAll("circle").data(xs.map((x, i) => [x, ys[i]])).join("circle")
    .attr("cx", d => sx(d[0])).attr("cy", d => sy(d[1]))
    .attr("r", r).attr("fill", fill).attr("fill-opacity", opacity);
}
const columns = (xs, ys) => xs.flatMap((x, i) => ys[i].map(y => [x, y]));
const fBlue = columns(fringeBlueX, fringeBlueY);
const fOrange = columns(fringeOrangeX, fringeOrangeY);
const corePts = columns(coreX, coreY);
dots(xBlue, yBlue, "#1f77b4", 4, 0.45);
dots(fBlue.map(d => d[0]), fBlue.map(d => d[1]), "#1f77b4", 4, 0.5);
dots(xOrange, yOrange, "#ff7f0e", 4, 0.35);
dots(fOrange.map(d => d[0]), fOrange.map(d => d[1]), "#ff7f0e", 4.2, 0.5);
dots(corePts.map(d => d[0]), corePts.map(d => d[1]), "#ff7f0e", 6, 0.92);

// Grid sits above the dots, as it does in the picture
plot.append("g").selectAll("line").data(scatterTicks).join("line")
  .attr("x1", d => sx(d)).attr("x2", d => sx(d)).attr("y1", TOP).attr("y2", BOTTOM)
  .attr("stroke", "#b0b0b0").attr("stroke-opacity", 0.6).attr("stroke-width", 1.5);
plot.append("g").selectAll("line").data(scatterTicks).join("line")
  .attr("y1", d => sy(d)).attr("y2", d => sy(d)).attr("x1", SL).attr("x2", SR)
  .attr("stroke", "#b0b0b0").attr("stroke-opacity", 0.6).attr("stroke-width", 1.5);
plot.append("line").attr("x1", sx(-6)).attr("y1", sy(-6)).attr("x2", sx(6)).attr("y2", sy(6))
  .attr("stroke", "#111").attr("stroke-width", 2);

const fmtS = d => d3.format(".1f")(d).replace("-", "−");
const styleS = a => {
  a.select(".domain").remove();
  a.selectAll(".tick line").attr("stroke", "#000").attr("stroke-width", 2.5);
  a.selectAll("text").attr("font-size", 44).attr("font-family", "Liberation Serif").attr("fill", "#222");
};
scat.append("g").attr("transform", `translate(0,${BOTTOM})`)
  .call(d3.axisBottom(sx).tickValues(scatterTicks).tickSize(9).tickPadding(16).tickFormat(fmtS)).call(styleS);
scat.append("g").attr("transform", `translate(${SL},0)`)
  .call(d3.axisLeft(sy).tickValues(scatterTicks).tickSize(9).tickPadding(17).tickFormat(fmtS)).call(styleS);
scat.append("rect").attr("x", SL).attr("y", TOP).attr("width", SR - SL).attr("height", BOTTOM - TOP)
  .attr("fill", "none").attr("stroke", "#000").attr("stroke-width", 2.5);

mathText(svg, 2549, 108, [["(c) "], ["v", "b"], ["D, ", "s"], ["t", "si"], [" vs. "], ["v", "b"], ["ref, ", "s"], ["t", "si"], [" at "], ["z", "i"], [" ≈ 160 km"]], 48);
mathText(svg, 2550, 158, [["t=0 s"]], 48);
mathText(svg, 2052, 558, [["v", "i"], ["ref, ", "s"], ["x", "si"], [", "], ["v", "i"], ["ref, ", "s"], ["y", "si"], [" (km s"], ["−1", "u"], [")"]], 48, { rotate: -90 });
mathText(svg, 2570, 1032, [["v", "i"], ["D, ", "s"], ["x", "si"], [", "], ["v", "i"], ["D, ", "s"], ["y", "si"], [" (km s"], ["−1", "u"], [")"]], 46);

// Legend
const lg = svg.append("g");
lg.append("rect").attr("x", 2211).attr("y", 201).attr("width", 343).attr("height", 123)
  .attr("fill", "#fff").attr("fill-opacity", 0.8).attr("stroke", "#ccc").attr("stroke-width", 3);
lg.append("line").attr("x1", 2223).attr("x2", 2283).attr("y1", 225).attr("y2", 225).attr("stroke", "#111").attr("stroke-width", 2);
lg.append("circle").attr("cx", 2253).attr("cy", 262).attr("r", 3.5).attr("fill", "#1f77b4").attr("fill-opacity", 0.35);
lg.append("circle").attr("cx", 2253).attr("cy", 297).attr("r", 3.5).attr("fill", "#ff7f0e").attr("fill-opacity", 0.35);
mathText(lg, 2305, 235, [["Reference (1:1)"]], 33.5, { anchor: "start" });
mathText(lg, 2305, 271, [["v", "i"], ["D, ", "s"], ["x", "si"], [" (R"], ["2", "u"], ["=0.81)"]], 37, { anchor: "start" });
mathText(lg, 2305, 306, [["v", "i"], ["D, ", "s"], ["y", "si"], [" (R"], ["2", "u"], ["=0.82)"]], 37, { anchor: "start" });
</script>
</body>
</html>
